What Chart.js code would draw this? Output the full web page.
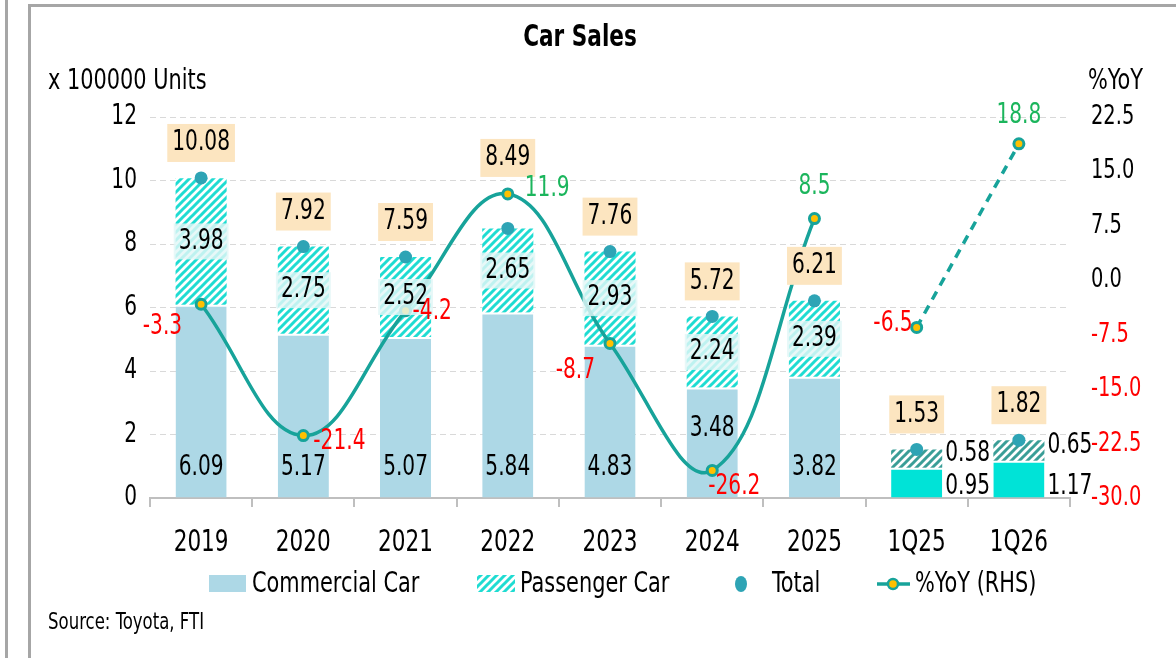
<!DOCTYPE html>
<html>
<head>
<meta charset="utf-8">
<script src="https://cdn.jsdelivr.net/npm/chart.js@4.4.0/dist/chart.umd.min.js"></script>
<style>
  html, body { margin: 0; padding: 0; background: #fff; overflow: hidden; }
  #wrap { position: relative; width: 1176px; height: 658px; }
  #lline { position: absolute; left: 5px; top: 0; width: 3px; height: 658px; background: #A6A6A6; }
  #frame { position: absolute; left: 28px; top: 4px; width: 1170px; height: 680px; border: 3px solid #A6A6A6; box-sizing: border-box; }
  canvas { position: absolute; left: 0; top: 0; }
</style>
</head>
<body>
<div id="wrap">
  <div id="lline"></div>
  <div id="frame"></div>
  <canvas id="c" width="1176" height="658"></canvas>
</div>
<script>
const categories = ["2019", "2020", "2021", "2022", "2023", "2024", "2025", "1Q25", "1Q26"];
const commercial = [6.09, 5.17, 5.07, 5.84, 4.83, 3.48, 3.82, 0.95, 1.17];
const passenger = [3.98, 2.75, 2.52, 2.65, 2.93, 2.24, 2.39, 0.58, 0.65];
const total = [10.08, 7.92, 7.59, 8.49, 7.76, 5.72, 6.21, 1.53, 1.82];
const yoy = [-3.3, -21.4, -4.2, 11.9, -8.7, -26.2, 8.5, -6.5, 18.8];
const leftTicks = [0, 2, 4, 6, 8, 10, 12];
const rightTicks = [-30, -22.5, -15, -7.5, 0, 7.5, 15, 22.5];
const firstQuarter = 7; // 1Q25 onwards drawn differently

const FONT = "'Liberation Sans Narrow', 'DejaVu Sans Condensed', 'Noto Sans', sans-serif";
const TEAL = "#17A39A";
const DOT = "#2EA4B5";
const LBL = 28;
const SQ = 0.8; // squeeze text sideways, the original uses a narrow font

const canvas = document.getElementById("c");
const ctx = canvas.getContext("2d");

// every text on the canvas gets narrowed around its anchor point
const rawFill = ctx.fillText.bind(ctx);
ctx.fillText = function (t, x, y) {
  this.save();
  this.translate(x, y);
  this.scale(SQ, 1);
  rawFill(t, 0, 0);
  this.restore();
};

// diagonal stripe fill like the excel pattern
function hatch(color) {
  const p = document.createElement("canvas");
  p.width = 8; p.height = 8;
  const g = p.getContext("2d");
  g.fillStyle = "#fff";
  g.fillRect(0, 0, 8, 8);
  g.strokeStyle = color;
  g.lineWidth = 3;
  g.beginPath();
  g.moveTo(-2, 10); g.lineTo(10, -2);
  g.moveTo(-6, 6); g.lineTo(6, -6);
  g.moveTo(2, 14); g.lineTo(14, 2);
  g.stroke();
  return ctx.createPattern(p, "repeat");
}
const hatchMain = hatch("#1FDCD2");
const hatchQ = hatch("#3A9E97");

// label offsets for the %YoY values: [dx, dy, align]
const yoyLabelPos = [
  [-19, 22, "right"], [10, 6, "left"], [7, 1, "left"], [17, -5, "left"],
  [-15, 27, "right"], [-4, 16, "left"], [0, -32, "center"], [-4, -4, "right"], [0, -28, "center"]
];

const labelPlugin = {
  id: "labels",
  afterDatasetsDraw(chart) {
    const c = chart.ctx;
    const y = chart.scales.y;
    const mCom = chart.getDatasetMeta(0);
    const mPas = chart.getDatasetMeta(1);
    const mTot = chart.getDatasetMeta(2);
    c.save();
    c.textBaseline = "middle";
    c.font = LBL + "px " + FONT;
    categories.forEach((cat, i) => {
      const bc = mCom.data[i], bp = mPas.data[i], pt = mTot.data[i];
      const base = y.getPixelForValue(0);
      const meta = chart.getDatasetMeta(i < firstQuarter ? 3 : 4);
      const yp = meta.data[i];
      // commercial value
      c.fillStyle = "#000";
      if (i < firstQuarter) {
        c.textAlign = "center";
        let ly = base - 30;
        if (Math.abs(yp.y - ly) < 20) ly = (bc.y + bc.base) / 2 - 14;
        c.fillText(commercial[i].toFixed(2), bc.x, ly);
      } else {
        c.textAlign = "left";
        c.fillText(commercial[i].toFixed(2), bc.x + bc.width / 2 + 3, base - 11);
      }
      // passenger value
      const pMid = (bp.y + bp.base) / 2;
      if (i < firstQuarter) {
        const t = passenger[i].toFixed(2);
        const w = c.measureText(t).width * SQ + 10;
        c.fillStyle = "rgba(226,246,246,0.82)";
        c.fillRect(bp.x - w / 2, pMid - 18, w, 36);
        c.fillStyle = "#000";
        c.textAlign = "center";
        c.fillText(t, bp.x, pMid);
      } else {
        c.textAlign = "left";
        c.fillText(passenger[i].toFixed(2), bp.x + bp.width / 2 + 3, pMid - 5);
      }
      // total box, lifted over the yoy point when they would collide
      let by = pt.y - 35;
      if (Math.abs(yp.x - pt.x) < 5 && Math.abs(yp.y - by) < 28) by = yp.y - 36;
      const tt = total[i].toFixed(2);
      const tw = c.measureText(tt).width * SQ + 10;
      c.fillStyle = "#FCE5C0";
      c.fillRect(pt.x - tw / 2, by - 19, tw, 38);
      c.fillStyle = "#000";
      c.textAlign = "center";
      c.fillText(tt, pt.x, by);
      // yoy value
      const pos = yoyLabelPos[i];
      c.fillStyle = yoy[i] < 0 ? "#FF0000" : "#1BB55C";
      c.textAlign = pos[2];
      c.fillText(yoy[i].toFixed(1), yp.x + pos[0], yp.y + pos[1]);
    });
    c.restore();
  },
  afterDraw(chart) {
    const c = chart.ctx;
    c.save();
    c.textBaseline = "middle";
    c.fillStyle = "#000";
    c.textAlign = "center";
    c.font = "bold 30px " + FONT;
    c.fillText("Car Sales", 580, 38);
    c.textAlign = "left";
    c.font = "29px " + FONT;
    c.fillText("x 100000 Units", 48, 81);
    c.fillText("%YoY", 1088, 81);
    // legend
    const ly = 584;
    c.fillStyle = "#ADD8E6";
    c.fillRect(209, ly - 9, 37, 17);
    c.fillStyle = hatchMain;
    c.fillRect(477, ly - 9, 38, 17);
    c.fillStyle = DOT;
    c.beginPath(); c.ellipse(741, ly, 6, 8, 0, 0, Math.PI * 2); c.fill();
    c.strokeStyle = TEAL; c.lineWidth = 3.5;
    c.beginPath(); c.moveTo(877, ly); c.lineTo(910, ly); c.stroke();
    c.fillStyle = "#FFC000"; c.lineWidth = 2.5;
    c.beginPath(); c.arc(893, ly, 5, 0, Math.PI * 2); c.fill(); c.stroke();
    c.fillStyle = "#000";
    c.font = "29px " + FONT;
    c.fillText("Commercial Car", 252, ly);
    c.fillText("Passenger Car", 520, ly);
    c.fillText("Total", 772, ly);
    c.fillText("%YoY (RHS)", 915, ly);
    c.font = "23px " + FONT;
    c.fillText("Source: Toyota, FTI", 48, 623);
    c.restore();
  }
};

Chart.defaults.font.family = FONT;
Chart.defaults.color = "#000";

new Chart(canvas, {
  type: "bar",
  data: {
    labels: categories,
    datasets: [
      {
        type: "bar", label: "Commercial Car", data: commercial, stack: "car", order: 2,
        backgroundColor: categories.map((c, i) => i < firstQuarter ? "#ADD8E6" : "#00E3D7"),
        borderColor: "#fff", borderWidth: { top: 2, left: 0, right: 0, bottom: 0 }, borderSkipped: false,
        barPercentage: 0.5, categoryPercentage: 1
      },
      {
        type: "bar", label: "Passenger Car", data: passenger, stack: "car", order: 3,
        backgroundColor: categories.map((c, i) => i < firstQuarter ? hatchMain : hatchQ),
        borderWidth: 0, barPercentage: 0.5, categoryPercentage: 1
      },
      {
        type: "line", label: "Total", data: total, stack: "total", order: 1, yAxisID: "y",
        showLine: false, pointRadius: 6.5, pointBackgroundColor: DOT, pointBorderWidth: 0
      },
      {
        type: "line", label: "%YoY (RHS)", yAxisID: "y1", order: 0,
        data: yoy.map((v, i) => i < firstQuarter ? v : null),
        borderColor: TEAL, borderWidth: 3.5, tension: 0.4, spanGaps: false,
        pointRadius: 5, pointBackgroundColor: "#FFC000", pointBorderColor: TEAL, pointBorderWidth: 3
      },
      {
        type: "line", label: "%YoY dashed", yAxisID: "y1", order: 0,
        data: yoy.map((v, i) => i >= firstQuarter ? v : null),
        borderColor: TEAL, borderWidth: 3.5, borderDash: [9, 7], spanGaps: false,
        pointRadius: 5, pointBackgroundColor: "#FFC000", pointBorderColor: TEAL, pointBorderWidth: 3
      }
    ]
  },
  options: {
    responsive: false,
    animation: false,
    layout: { padding: { left: 90, right: 26, top: 117, bottom: 100 } },
    plugins: { legend: { display: false }, tooltip: { enabled: false }, title: { display: false } },
    scales: {
      x: {
        stacked: true,
        grid: { offset: true, drawOnChartArea: false, drawTicks: true, tickLength: 9, color: "#BFBFBF", lineWidth: 2 },
        border: { color: "#BFBFBF", width: 2 },
        ticks: { font: { size: 30 }, padding: 18, color: "#000" },
        afterFit: s => { s.height = 60; }
      },
      y: {
        stacked: true, min: 0, max: 12,
        afterBuildTicks: s => { s.ticks = leftTicks.map(v => ({ value: v })); },
        ticks: { font: { size: 28 }, padding: 13, color: "#000" },
        grid: { drawTicks: false, color: c => c.tick.value === 0 ? "rgba(0,0,0,0)" : "#D9D9D9", lineWidth: 1 },
        border: { display: false, dash: [6, 4] },
        afterFit: s => { s.width = 60; }
      },
      y1: {
        position: "right", min: -30, max: 22.5,
        afterBuildTicks: s => { s.ticks = rightTicks.map(v => ({ value: v })); },
        ticks: {
          font: { size: 27 }, padding: 21,
          color: c => c.tick.value < 0 ? "#FF0000" : "#000",
          callback: v => v.toFixed(1)
        },
        grid: { drawOnChartArea: false, drawTicks: false },
        border: { display: false },
        afterFit: s => { s.width = 80; }
      }
    }
  },
  plugins: [labelPlugin]
});
</script>
</body>
</html>
